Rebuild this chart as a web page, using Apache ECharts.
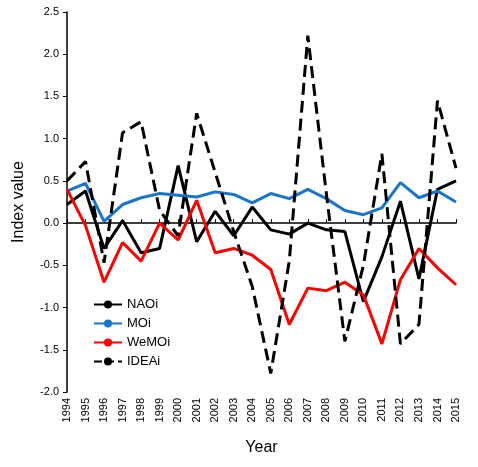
<!DOCTYPE html><html><head><meta charset="utf-8"><script src="https://cdn.jsdelivr.net/npm/echarts@6/dist/echarts.min.js"></script></head><body style="margin:0"><div id="c" style="width:478px;height:467px"></div><script>
const years=['1994','1995','1996','1997','1998','1999','2000','2001','2002','2003','2004','2005','2006','2007','2008','2009','2010','2011','2012','2013','2014','2015'];
const NAOi=[0.22,0.38,-0.3,0.03,-0.35,-0.3,0.68,-0.22,0.14,-0.15,0.19,-0.08,-0.13,0.0,-0.08,-0.1,-0.93,-0.4,0.26,-0.66,0.4,0.5];
const MOi=[0.38,0.47,0.02,0.22,0.3,0.35,0.33,0.31,0.37,0.34,0.24,0.35,0.29,0.4,0.29,0.15,0.1,0.18,0.48,0.3,0.38,0.25];
const WeMOi=[0.4,-0.03,-0.7,-0.23,-0.45,0.0,-0.2,0.27,-0.35,-0.3,-0.38,-0.55,-1.2,-0.77,-0.8,-0.7,-0.85,-1.43,-0.67,-0.3,-0.53,-0.73];
const IDEAi=[0.5,0.73,-0.47,1.07,1.2,0.15,-0.15,1.3,0.6,-0.1,-0.75,-1.78,-0.45,2.22,0.35,-1.4,-0.5,0.82,-1.43,-1.2,1.45,0.65];
const ch=echarts.init(document.getElementById('c'));
const f='Arial, Liberation Sans, sans-serif';
function s(n,d,c,t){return {name:n,type:'line',data:d,symbol:'none',lineStyle:{color:c,width:3,type:t||'solid'},itemStyle:{color:c}};}
ch.setOption({animation:false,
grid:{left:67,right:22,top:12,bottom:75,outerBoundsMode:'none',containLabel:false},
legend:{orient:'vertical',left:88,top:293,itemGap:6,itemWidth:28,itemHeight:10,textStyle:{fontFamily:f,fontSize:13,color:'#000'},
data:['NAOi','MOi','WeMOi','IDEAi']},
xAxis:[{type:'category',data:years,boundaryGap:false,
axisLine:{onZero:true,lineStyle:{color:'#000',width:1.5}},axisTick:{show:true,length:4,inside:true,interval:0,lineStyle:{color:'#000'}},
axisLabel:{show:false}},
{type:'category',data:years,boundaryGap:false,position:'bottom',name:'Year',nameLocation:'middle',nameGap:48,nameTextStyle:{fontFamily:f,fontSize:16,color:'#000'},
axisLine:{show:false,onZero:false},axisTick:{show:false},
axisLabel:{rotate:90,fontFamily:f,fontSize:11,color:'#000',interval:0,margin:6}}],
yAxis:{type:'value',min:-2,max:2.5,interval:0.5,name:'Index value',nameLocation:'middle',nameGap:40,nameTextStyle:{fontFamily:f,fontSize:16,color:'#000'},
axisLine:{show:true,lineStyle:{color:'#000',width:1.5}},axisTick:{show:true,length:4,lineStyle:{color:'#000'}},splitLine:{show:false},
axisLabel:{fontFamily:f,fontSize:11,color:'#000',formatter:v=>v.toFixed(1)}},
series:[s('NAOi',NAOi,'#000'),s('MOi',MOi,'#1874CD'),s('WeMOi',WeMOi,'#FF0000'),s('IDEAi',IDEAi,'#000','dashed')]});
</script></body></html>
